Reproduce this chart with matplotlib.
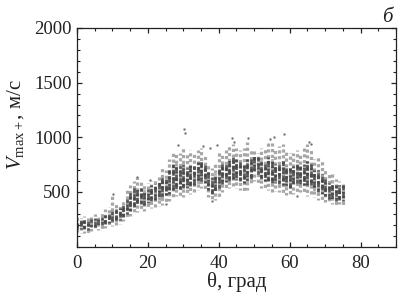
import matplotlib
matplotlib.use("Agg")
import matplotlib.pyplot as plt
from matplotlib.ticker import MultipleLocator

plt.rcParams['font.family'] = ['Liberation Serif', 'DejaVu Serif']
plt.rcParams['mathtext.fontset'] = 'custom'
plt.rcParams['mathtext.rm'] = 'Liberation Serif'
plt.rcParams['mathtext.it'] = 'Liberation Serif:italic'

# angle (deg) and the vertical extent of the measured cloud at each angle
theta = list(range(0, 76))
outer_lo = [130, 125, 120, 115, 140, 150, 150, 160, 170, 175,
            190, 200, 210, 230, 260, 280, 300, 320, 340, 330,
            340, 350, 360, 370, 380, 400, 420, 440, 460, 460,
            450, 470, 480, 500, 520, 540, 520, 450, 420, 430,
            450, 500, 520, 540, 550, 540, 520, 500, 520, 560,
            600, 580, 540, 520, 520, 500, 510, 500, 480, 470,
            460, 480, 500, 500, 480, 460, 480, 450, 430, 420,
            410, 400, 390, 380, 390, 360]
outer_hi = [270, 265, 280, 260, 290, 300, 290, 320, 340, 360,
            470, 400, 390, 420, 520, 560, 600, 640, 600, 570,
            580, 600, 620, 650, 720, 700, 800, 870, 850, 860,
            900, 860, 880, 850, 880, 900, 850, 760, 720, 760,
            870, 860, 880, 930, 940, 900, 880, 900, 960, 880,
            880, 860, 900, 900, 960, 950, 900, 920, 940, 880,
            860, 860, 880, 850, 900, 940, 900, 800, 820, 780,
            700, 660, 680, 620, 600, 580]
core_lo = [165, 160, 160, 155, 175, 180, 185, 195, 205, 215,
           230, 235, 240, 270, 300, 330, 360, 380, 390, 380,
           400, 420, 430, 440, 450, 470, 480, 520, 520, 530,
           540, 540, 550, 560, 580, 600, 580, 520, 480, 500,
           540, 570, 590, 600, 620, 610, 600, 580, 600, 620,
           680, 660, 620, 600, 600, 580, 580, 570, 560, 550,
           540, 560, 580, 570, 560, 560, 560, 520, 500, 480,
           460, 440, 430, 420, 430, 420]
core_hi = [235, 240, 245, 230, 250, 260, 255, 270, 285, 300,
           330, 340, 350, 380, 440, 500, 540, 540, 540, 520,
           530, 560, 570, 600, 640, 620, 700, 760, 760, 740,
           760, 720, 760, 740, 770, 780, 750, 680, 640, 660,
           720, 760, 760, 800, 820, 800, 770, 760, 800, 800,
           840, 820, 780, 760, 820, 800, 760, 760, 780, 740,
           720, 740, 760, 740, 760, 780, 760, 700, 700, 660,
           620, 580, 580, 560, 560, 560]

# isolated points outside the main cloud
out_theta = [10.3, 16.8, 30.3, 30.6, 28.5, 39.5, 43.8, 44.2, 48.2, 54.5,
             55.5, 58.5, 65.5, 66.0, 37.5, 38.2, 25.0, 62.0, 20.5, 35.5]
out_v = [480, 640, 1075, 1040, 930, 930, 990, 960, 990, 980,
         1000, 1030, 960, 940, 900, 420, 390, 460, 610, 920]

fig = plt.figure(figsize=(4.01, 3.0), dpi=100)
ax = fig.add_axes([0.192, 0.178, 0.7955, 0.7287])

# dash offsets (style only) vary from streak to streak for a speckled look
offs = [0.0, 0.9, 0.4, 1.3, 0.2, 1.1, 0.6, 1.6, 0.3, 1.0, 0.7]
outer_styles = [(offs[i % len(offs)], (1.0, 0.8)) for i in range(len(theta))]
core_styles = [(offs[(i * 3) % len(offs)] * 1.4, (2.2, 0.6)) for i in range(len(theta))]

ax.vlines(theta, outer_lo, outer_hi, colors='#8a8a8a', linewidth=2.3,
          linestyles=outer_styles, alpha=0.75)
ax.vlines(theta, core_lo, core_hi, colors='#303030', linewidth=2.0,
          linestyles=core_styles, alpha=0.8)
ax.scatter(out_theta, out_v, s=3, color='#777777', linewidths=0)

ax.set_xlim(0, 90)
ax.set_ylim(0, 2000)
ax.xaxis.set_major_locator(MultipleLocator(20))
ax.xaxis.set_minor_locator(MultipleLocator(5))
ax.yaxis.set_major_locator(MultipleLocator(500))
ax.yaxis.set_minor_locator(MultipleLocator(100))
ax.set_yticks([500, 1000, 1500, 2000])
ax.tick_params(which='both', direction='in', top=True, right=True,
               colors='#222222', labelcolor='#222222')
ax.tick_params(which='major', length=3.5, width=0.9, labelsize=13.5)
ax.tick_params(which='minor', length=2, width=0.8)
ax.tick_params(axis='x', pad=6)
ax.tick_params(axis='y', pad=4)
for s in ax.spines.values():
    s.set_linewidth(0.9)
    s.set_color('#222222')

ax.set_xlabel('θ, град', fontsize=15, color='#222222', labelpad=0)
ax.set_ylabel(r'$V_{\rm max+}$, м/с', fontsize=15, color='#222222', labelpad=2)
ax.yaxis.set_label_coords(-0.16, 0.56)
fig.text(0.965, 0.975, 'б', fontsize=15, style='italic', ha='center', va='top',
         color='#222222')

fig.savefig('out.png', dpi=100)
